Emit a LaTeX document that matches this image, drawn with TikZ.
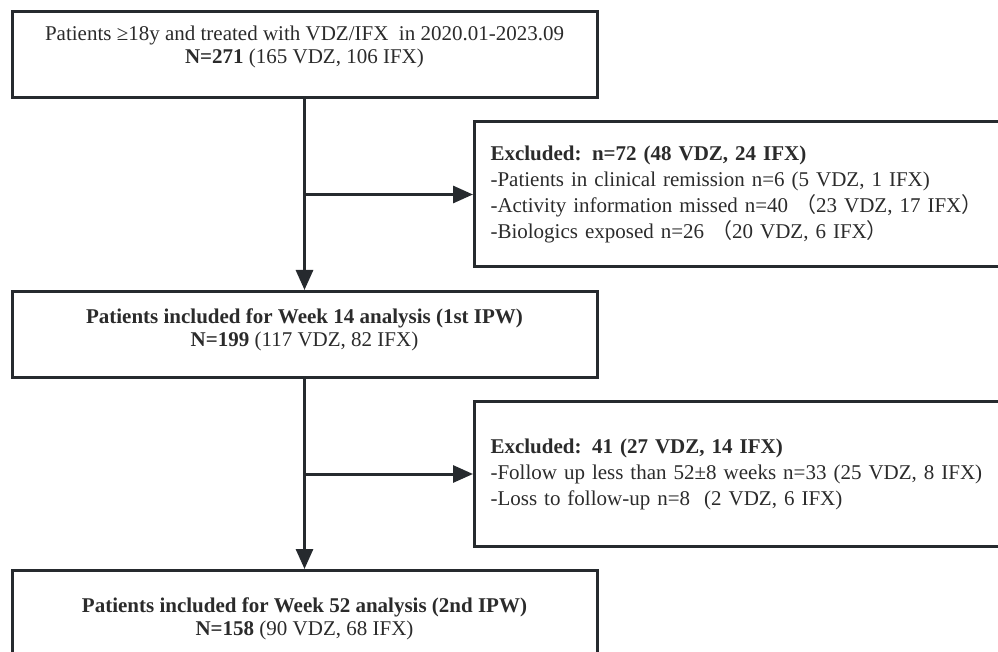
\documentclass[tikz,border=0pt]{standalone}
\usepackage{fontspec}
\setmainfont{Liberation Serif}
\newfontfamily\cjk{Noto Sans CJK SC}
\usetikzlibrary{positioning, arrows.meta}
\definecolor{linegray}{HTML}{262A2E}
\definecolor{textgray}{HTML}{2B2B2B}

\begin{document}
\begin{tikzpicture}[x=1pt, y=-1pt,
    box/.style={rectangle, draw=linegray, line width=3pt, minimum width=585pt, minimum height=86pt},
    boxtext/.style={align=center, text=textgray, font=\fontsize{21}{23}\selectfont},
    excl/.style={rectangle, draw=linegray, line width=3pt, minimum height=145pt, text width=508pt, inner xsep=16pt, align=left, text=textgray, font=\fontsize{21}{26}\selectfont},
    flow/.style={draw=linegray, line width=3pt, -{Triangle[length=20pt, width=17pt]}}
]
\clip (0,0) rectangle (998,652);

% Main boxes
\node[box] (start) at (304.5,55) {};
\node[boxtext, yshift=8pt] (startlbl) at (start) {Patients ≥18y and treated with VDZ/IFX\ \ in 2020.01-2023.09\\\textbf{N=271} (165 VDZ, 106 IFX)};
\node[box] (wk14) at (304.5,334.5) {};
\node[boxtext, yshift=5pt] (wk14lbl) at (wk14) {\textbf{Patients included for Week 14 analysis (1st IPW)}\\\textbf{N=199} (117 VDZ, 82 IFX)};
\node[box] (wk52) at (304.5,613.5) {};
\node[boxtext, yshift=-5pt] (wk52lbl) at (wk52) {\textbf{Patients included for Week 52 analysis (2nd IPW)}\\\textbf{N=158} (90 VDZ, 68 IFX)};

% Exclusion boxes
\node[excl, anchor=west] (excl1) at (473,194.5) {\textbf{Excluded: n=72 (48 VDZ, 24 IFX)}\\-Patients in clinical remission n=6 (5 VDZ, 1 IFX)\\-Activity information missed n=40\ {\cjk （}23 VDZ, 17 IFX{\cjk ）}\\-Biologics exposed n=26\ {\cjk （}20 VDZ, 6 IFX{\cjk ）}};
\node[excl, anchor=west] (excl2) at (473,474) {\textbf{Excluded: 41 (27 VDZ, 14 IFX)}\\-Follow up less than 52±8 weeks n=33 (25 VDZ, 8 IFX)\\-Loss to follow-up n=8\ \ (2 VDZ, 6 IFX)};

% Arrows
\coordinate (split1) at (start.south |- excl1.west);
\coordinate (split2) at (wk14.south |- excl2.west);
\draw[flow] (start.south) -- (wk14.north);
\draw[flow] (split1) -- (excl1.west);
\draw[flow] (wk14.south) -- (wk52.north);
\draw[flow] (split2) -- (excl2.west);

\end{tikzpicture}
\end{document}
